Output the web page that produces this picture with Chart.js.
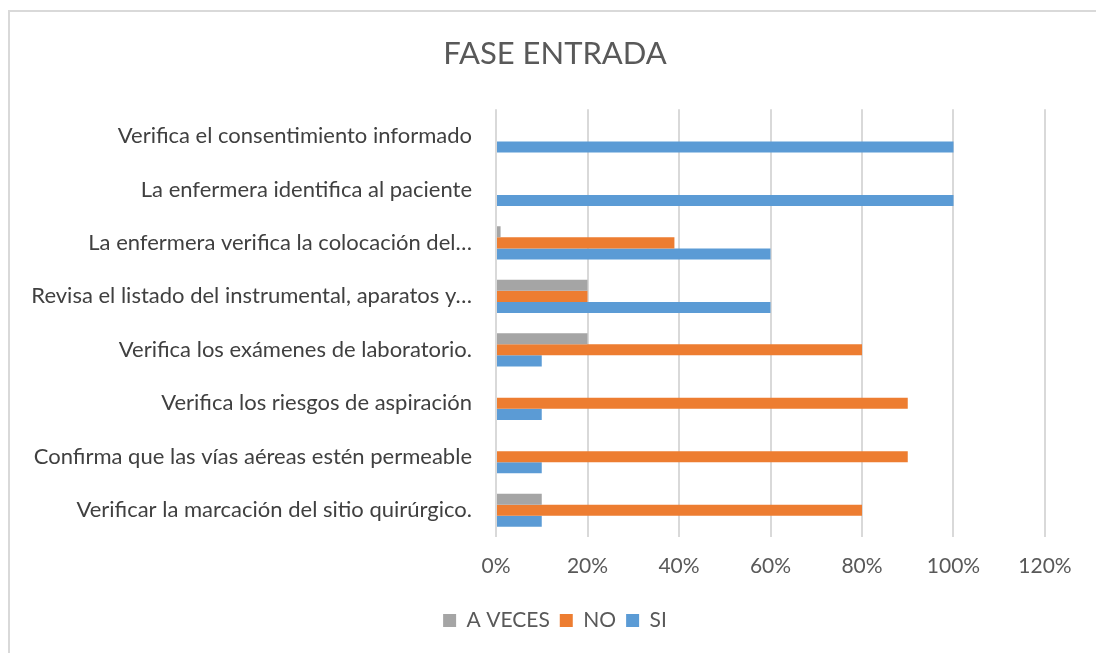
<!DOCTYPE html>
<html>
<head>
<meta charset="utf-8">
<script src="https://cdn.jsdelivr.net/npm/chart.js@4"></script>
<style>
  html, body { margin: 0; padding: 0; background: #fff; overflow: hidden; }
  #wrap { position: relative; width: 1110px; height: 653px; }
  #marco { position: absolute; left: 8px; top: 10px; width: 1200px; height: 800px; border: 2px solid #d9d9d9; box-sizing: border-box; pointer-events: none; }
</style>
</head>
<body>
<div id="wrap">
  <canvas id="grafico"></canvas>
  <div id="marco"></div>
</div>
<script>
const categorias = [
    'Verifica el consentimiento informado',
    'La enfermera identifica al paciente',
    'La enfermera verifica la colocación del…',
    'Revisa el listado del instrumental, aparatos y…',
    'Verifica los exámenes de laboratorio.',
    'Verifica los riesgos de aspiración',
    'Confirma que las vías aéreas estén permeable',
    'Verificar la marcación del sitio quirúrgico.'
]

const aVeces = [0, 0, 0.01, 0.2, 0.2, 0, 0, 0.1]
const no = [0, 0, 0.39, 0.2, 0.8, 0.9, 0.9, 0.8]
const si = [1, 1, 0.6, 0.6, 0.1, 0.1, 0.1, 0.1]

const ticksX = ['0%', '20%', '40%', '60%', '80%', '100%', '120%']

const fuente = 'Lato, "Open Sans", sans-serif'

const ctx = document.getElementById('grafico')

const grafico = new Chart(ctx, {
    type: 'bar',
    data: {
        labels: categorias,
        datasets: [
            { label: 'A VECES', data: aVeces, backgroundColor: '#a5a5a5' },
            { label: 'NO', data: no, backgroundColor: '#ed7d31' },
            { label: 'SI', data: si, backgroundColor: '#5b9bd5' }
        ]
    },
    options: {
        indexAxis: 'y',
        responsive: true,
        maintainAspectRatio: false,
        animation: false,
        categoryPercentage: 0.62,
        barPercentage: 1.0,
        layout: { padding: { top: 10, left: 0, right: 0, bottom: 12 } },
        plugins: {
            title: {
                display: true,
                text: 'FASE ENTRADA',
                color: '#595959',
                font: { family: fuente, size: 31, weight: 'normal' },
                padding: { top: 25, bottom: 37 }
            },
            legend: {
                position: 'bottom',
                labels: {
                    color: '#595959',
                    font: { family: fuente, size: 21 },
                    boxWidth: 13,
                    boxHeight: 13,
                    padding: 10
                }
            },
            tooltip: { enabled: false }
        },
        scales: {
            x: {
                min: 0,
                max: 1.2,
                ticks: {
                    stepSize: 0.2,
                    color: '#595959',
                    font: { family: fuente, size: 21 },
                    padding: 17,
                    callback: (v, i) => ticksX[i]
                },
                grid: { color: '#d9d9d9', lineWidth: 2, drawTicks: false },
                border: { display: false },
                afterFit: s => { s.height = 63 }
            },
            y: {
                ticks: {
                    color: '#404040',
                    font: { family: fuente, size: 22 },
                    padding: 24
                },
                grid: { display: false, drawTicks: false },
                border: { display: false },
                afterFit: s => { s.width = 496 }
            },
            // eje vacío a la derecha: deja el hueco tras el 120%
            margen: {
                type: 'category',
                position: 'right',
                ticks: { display: false },
                grid: { display: false, drawTicks: false },
                border: { display: false },
                afterFit: s => { s.width = 65 }
            }
        }
    }
})
</script>
</body>
</html>
